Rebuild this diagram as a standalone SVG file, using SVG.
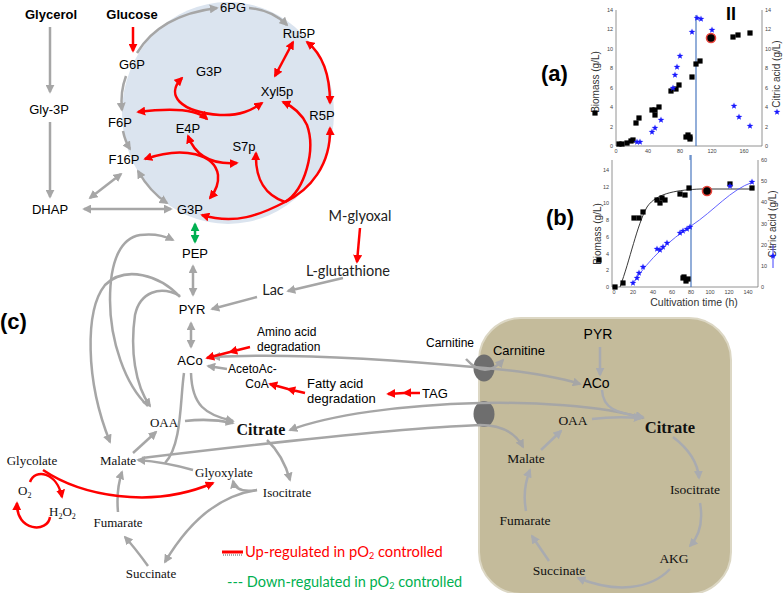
<svg xmlns="http://www.w3.org/2000/svg" xmlns:xlink="http://www.w3.org/1999/xlink" width="784" height="593" viewBox="0 0 784 593">
<defs>
<style>
.lb{font-family:"Liberation Sans",Arial,sans-serif;font-size:13px;fill:#000}
.bd{font-weight:bold}
.sf{font-family:"Liberation Serif","Times New Roman",serif;font-size:13px;fill:#111}
.cal{font-family:Lato,"Open Sans",sans-serif;font-size:14.5px;fill:#222}
.g{fill:none;stroke:#a6a6a6;stroke-width:2.5}
.gm{fill:none;stroke:#a9abb0;stroke-width:2.5}
.r{fill:none;stroke:#ff0000;stroke-width:2.5}
.gr{fill:none;stroke:#00b050;stroke-width:2.5}
.ax{fill:none;stroke:#777;stroke-width:0.8}
.tk{font-family:"Liberation Sans",Arial,sans-serif;font-size:5.5px;fill:#444}
.al{font-family:"Liberation Sans",Arial,sans-serif;font-size:10px;fill:#333}
.big{font-size:22px}
.s12{font-size:12px}
.s14{font-size:14px}
.m{font-size:13.5px}
</style>
<marker id="ag" viewBox="0 0 10 10" refX="8" refY="5" markerWidth="3.6" markerHeight="3.6" orient="auto-start-reverse"><path d="M0,0 L10,5 L0,10 z" fill="#a6a6a6"/></marker>
<marker id="am" viewBox="0 0 10 10" refX="8" refY="5" markerWidth="3.6" markerHeight="3.6" orient="auto-start-reverse"><path d="M0,0 L10,5 L0,10 z" fill="#a9abb0"/></marker>
<marker id="ar" viewBox="0 0 10 10" refX="8" refY="5" markerWidth="3.6" markerHeight="3.6" orient="auto-start-reverse"><path d="M0,0 L10,5 L0,10 z" fill="#ff0000"/></marker>
<marker id="an" viewBox="0 0 10 10" refX="8" refY="5" markerWidth="3.6" markerHeight="3.6" orient="auto-start-reverse"><path d="M0,0 L10,5 L0,10 z" fill="#00b050"/></marker>
<rect id="sq" x="-2.6" y="-2.6" width="5.2" height="5.2" fill="#000"/>
<path id="st" d="M0,-3.5 L0.82,-1.13 L3.33,-1.08 L1.33,0.43 L2.06,2.83 L0,1.4 L-2.06,2.83 L-1.33,0.43 L-3.33,-1.08 L-0.82,-1.13 Z" fill="#1a1aff"/>
</defs>
<rect width="784" height="593" fill="#fff"/>

<!-- background shapes -->
<ellipse id="ppp-circle" cx="228" cy="113" rx="106" ry="111" fill="#dbe4ef"/>
<rect id="mitochondrion" x="479" y="318" width="252" height="276" rx="42" fill="#c4bb9b" stroke="#dcd7c4" stroke-width="2"/>
<ellipse id="transporter1" cx="484" cy="368" rx="10.5" ry="13.5" fill="#6e6e6e"/>
<ellipse id="transporter2" cx="484" cy="414" rx="10.5" ry="13" fill="#6e6e6e"/>

<g id="connectors">
<!-- gray top-left -->
<path class="g" d="M50,27 L50,92" marker-end="url(#ag)"/>
<path class="g" d="M50,122 L50,197" marker-end="url(#ag)"/>
<path class="g" d="M137,53 Q160,15 217,8" marker-end="url(#ag)"/>
<path class="g" d="M249,8 Q272,10 287,25" marker-end="url(#ag)"/>
<path class="g" d="M126,76 Q120,92 122,110" marker-end="url(#ag)"/>
<path class="g" d="M123,131 Q125,141 130,149" marker-end="url(#ag)"/>
<path class="g" d="M138,171 Q150,192 167,203" marker-start="url(#ag)" marker-end="url(#ag)"/>
<path class="g" d="M90,198 L121,174" marker-start="url(#ag)" marker-end="url(#ag)"/>
<path class="g" d="M84,209 L171,209" marker-start="url(#ag)" marker-end="url(#ag)"/>
<!-- red PPP -->
<path class="r" d="M293,42 L275,76" marker-start="url(#ar)" marker-end="url(#ar)"/>
<path class="r" d="M307,42 Q330,60 330,103" marker-start="url(#ar)" marker-end="url(#ar)"/>
<path class="r" d="M182,78 C165,95 180,112 220,115 C240,116 252,110 262,103" marker-start="url(#ar)" marker-end="url(#ar)"/>
<path class="r" d="M138,112 Q192,105 207,119" marker-start="url(#ar)" marker-end="url(#ar)"/>
<path class="r" d="M145,159 C185,145 215,155 218,175 C219,185 215,192 210,198" marker-start="url(#ar)" marker-end="url(#ar)"/>
<path class="r" d="M188,136 C195,155 210,165 237,163" marker-start="url(#ar)" marker-end="url(#ar)"/>
<path class="r" d="M285,202 C265,195 255,180 256,153" marker-end="url(#ar)"/>
<path class="r" d="M285,202 C305,190 316,150 307,125 C301,112 292,106 283,102" marker-end="url(#ar)"/>
<path class="r" d="M285,202 C310,190 331,165 330,128" marker-end="url(#ar)"/>
<path class="r" d="M285,202 C260,215 235,225 202,215" marker-end="url(#ar)"/>
<path class="gr" d="M195,224 L195,242" marker-start="url(#an)" marker-end="url(#an)"/>
<path class="r" d="M360,228 L357,262" stroke-width="3" marker-end="url(#ar)"/>
<!-- gray middle -->
<path class="g" d="M343,278 L288,291" marker-end="url(#ag)"/>
<path class="g" d="M257,297 L212,309" marker-end="url(#ag)"/>
<path class="g" d="M193,266 L193,295" marker-start="url(#ag)" marker-end="url(#ag)"/>
<path class="g" d="M191,323 L191,347" marker-start="url(#ag)" marker-end="url(#ag)"/>
<path class="g" d="M227,369 L208,366" marker-end="url(#ag)"/>
<path class="g" d="M148,406 C125,385 110,340 110,300 C110,258 122,238 140,235 C155,233 165,236 173,240" marker-end="url(#ag)"/>
<path class="g" d="M180,296 C160,285 140,292 135,315 C130,350 135,385 150,406" marker-end="url(#ag)"/>
<path class="g" d="M180,297 C160,275 125,265 105,285 C85,310 85,380 110,442" marker-end="url(#ag)"/>
<path class="g" d="M184,373 C180,400 182,445 165,463"/>
<path class="g" d="M185,421 Q210,418 233,423" marker-end="url(#ag)"/>
<path class="g" d="M191,373 C192,405 205,415 233,421" marker-end="url(#ag)"/>
<path class="g" d="M133,453 L156,432" marker-end="url(#ag)"/>
<path class="g" d="M193,470 Q165,462 138,460" marker-end="url(#ag)"/>
<path class="g" d="M118,512 Q116,490 122,472" marker-end="url(#ag)"/>
<path class="g" d="M148,566 Q135,548 125,537" marker-end="url(#ag)"/>
<path class="g" d="M257,490 C220,495 190,520 165,562" marker-end="url(#ag)"/>
<path class="g" d="M257,490 C245,492 235,490 233,481" marker-end="url(#ag)"/>
<path class="g" d="M267,440 Q283,455 290,480" marker-end="url(#ag)"/>
<!-- long cross-membrane -->
<path class="g" d="M643,418 C600,405 530,402 480,403 C400,405 330,415 290,430" marker-start="url(#ag)" marker-end="url(#ag)"/>
<path class="g" d="M142,458 C250,445 400,428 480,425 C500,425 515,432 523,447" marker-end="url(#ag)"/>
<path class="g" d="M213,357 C300,352 420,362 485,368 C530,372 560,378 580,384" marker-start="url(#ag)" marker-end="url(#ag)"/>
<path class="g" d="M466,359 Q485,380 503,360" marker-end="url(#ag)"/>
<!-- mito -->
<path class="gm" d="M600,347 L600,375" marker-end="url(#am)"/>
<path class="gm" d="M602,390 C603,408 615,413 643,417" marker-end="url(#am)"/>
<path class="gm" d="M592,419 Q615,416 641,418" marker-end="url(#am)"/>
<path class="gm" d="M541,450 L561,431" marker-end="url(#am)"/>
<path class="gm" d="M526,511 Q522,490 530,470" marker-end="url(#am)"/>
<path class="gm" d="M549,561 Q540,548 532,536" marker-end="url(#am)"/>
<path class="gm" d="M670,569 C650,590 615,593 578,578" marker-end="url(#am)"/>
<path class="gm" d="M700,503 C703,520 700,535 690,546" marker-end="url(#am)"/>
<path class="gm" d="M673,437 C690,450 698,465 699,478" marker-end="url(#am)"/>
<!-- red cytosol -->
<path class="r" d="M250,347 L230,352 L207,358" marker-mid="url(#ar)" marker-end="url(#ar)"/>
<path class="r" d="M305,393 L288,389 L270,384" marker-mid="url(#ar)" marker-end="url(#ar)"/>
<path class="r" d="M420,393 L404,393 L388,394" marker-mid="url(#ar)" marker-end="url(#ar)"/>
<path class="r" d="M43,470 C80,495 150,510 213,483" stroke-width="3" marker-end="url(#ar)"/>
<path class="r" d="M30,482 C35,468 57,472 62,497" marker-end="url(#ar)"/>
<path class="r" d="M50,517 C48,533 16,532 17,503" marker-end="url(#ar)"/>
</g>

<!-- nodes -->
<g id="n-glycerol"><text class="lb bd" x="51" y="19" text-anchor="middle">Glycerol</text></g>
<g id="n-glucose"><text class="lb bd" x="132" y="19" text-anchor="middle">Glucose</text><path class="r" d="M133,27 L133,51" marker-end="url(#ar)"/></g>
<g id="n-g6p"><text class="lb" x="132" y="69" text-anchor="middle">G6P</text></g>
<g id="n-gly3p"><text class="lb" x="49" y="114" text-anchor="middle">Gly-3P</text></g>
<g id="n-dhap"><text class="lb" x="50" y="214" text-anchor="middle">DHAP</text></g>
<g id="n-6pg"><text class="lb" x="233" y="12" text-anchor="middle">6PG</text></g>
<g id="n-ru5p"><text class="lb" x="299" y="38" text-anchor="middle">Ru5P</text></g>
<g id="n-g3p-in"><text class="lb" x="209" y="76" text-anchor="middle">G3P</text></g>
<g id="n-xyl5p"><text class="lb" x="277" y="96" text-anchor="middle">Xyl5p</text></g>
<g id="n-r5p"><text class="lb" x="322" y="120" text-anchor="middle">R5P</text></g>
<g id="n-f6p"><text class="lb" x="120" y="127" text-anchor="middle">F6P</text></g>
<g id="n-e4p"><text class="lb" x="188" y="133" text-anchor="middle">E4P</text></g>
<g id="n-s7p"><text class="lb" x="244" y="151" text-anchor="middle">S7p</text></g>
<g id="n-f16p"><text class="lb" x="124" y="164" text-anchor="middle">F16P</text></g>
<g id="n-g3p"><text class="lb" x="190" y="214" text-anchor="middle">G3P</text></g>
<g id="n-mglyoxal"><text class="cal" x="360" y="221" text-anchor="middle">M-glyoxal</text></g>
<g id="n-pep"><text class="lb" x="195" y="258" text-anchor="middle">PEP</text></g>
<g id="n-lglut"><text class="cal" x="348" y="276" text-anchor="middle">L-glutathione</text></g>
<g id="n-lac"><text class="cal" x="273" y="295" text-anchor="middle">Lac</text></g>
<g id="n-pyr"><text class="lb" x="192" y="314" text-anchor="middle">PYR</text></g>
<g id="label-c"><text class="lb bd big" x="0" y="329">(c)</text></g>
<g id="n-aco"><text class="lb" x="190" y="365" text-anchor="middle">ACo</text></g>
<g id="n-amino"><text class="lb s12" x="257" y="336">Amino acid</text><text class="lb s12" x="257" y="351">degradation</text></g>
<g id="n-acetoac"><text class="lb s12" x="228" y="373">AcetoAc-</text><text class="lb s12" x="257" y="388" text-anchor="middle">CoA</text></g>
<g id="n-fatty"><text class="lb" x="307" y="388">Fatty acid</text><text class="lb" x="307" y="403">degradation</text></g>
<g id="n-tag"><text class="lb" x="422" y="398">TAG</text></g>
<g id="n-carnitine-out"><text class="lb s12" x="426" y="347">Carnitine</text></g>
<g id="n-oaa"><text class="sf" x="164" y="427" text-anchor="middle">OAA</text></g>
<g id="n-citrate"><text class="sf bd" x="261" y="435" text-anchor="middle" style="font-size:16px">Citrate</text></g>
<g id="n-malate"><text class="sf" x="118" y="465" text-anchor="middle">Malate</text></g>
<g id="n-glycolate"><text class="sf" x="32" y="465" text-anchor="middle">Glycolate</text></g>
<g id="n-glyoxylate"><text class="sf" x="224" y="477" text-anchor="middle">Glyoxylate</text></g>
<g id="n-isocitrate"><text class="sf" x="287" y="497" text-anchor="middle">Isocitrate</text></g>
<g id="n-fumarate"><text class="sf" x="118" y="527" text-anchor="middle">Fumarate</text></g>
<g id="n-succinate"><text class="sf" x="151" y="578" text-anchor="middle">Succinate</text></g>
<g id="n-o2"><text class="sf" x="18" y="495">O<tspan font-size="8" dy="3">2</tspan></text></g>
<g id="n-h2o2"><text class="sf" x="49" y="516">H<tspan font-size="8" dy="3">2</tspan><tspan dy="-3">O</tspan><tspan font-size="8" dy="3">2</tspan></text></g>

<g id="m-pyr"><text class="lb s14" x="598" y="339" text-anchor="middle">PYR</text></g>
<g id="m-aco"><text class="lb s14" x="596" y="388" text-anchor="middle">ACo</text></g>
<g id="m-carnitine"><text class="lb" x="519" y="355" text-anchor="middle">Carnitine</text></g>
<g id="m-oaa"><text class="sf m" x="573" y="425" text-anchor="middle">OAA</text></g>
<g id="m-citrate"><text class="sf bd" x="670" y="433" text-anchor="middle" style="font-size:16.5px">Citrate</text></g>
<g id="m-malate"><text class="sf m" x="526" y="463" text-anchor="middle">Malate</text></g>
<g id="m-isocitrate"><text class="sf m" x="695" y="494" text-anchor="middle">Isocitrate</text></g>
<g id="m-fumarate"><text class="sf m" x="525" y="525" text-anchor="middle">Fumarate</text></g>
<g id="m-akg"><text class="sf m" x="674" y="563" text-anchor="middle">AKG</text></g>
<g id="m-succinate"><text class="sf m" x="559" y="575" text-anchor="middle">Succinate</text></g>

<!-- legend -->
<g id="legend">
<path d="M222,552 L243,552" stroke="#ff0000" stroke-width="3"/>
<path d="M223,555 L243,555" stroke="#555" stroke-width="1" stroke-dasharray="1,1"/>
<text class="cal" x="245" y="557" style="fill:#ff0000;font-size:14.7px">Up-regulated  in pO<tspan font-size="9" dy="2">2</tspan><tspan dy="-2"> controlled</tspan></text>
<text class="cal" x="227" y="587" style="fill:#00b050;font-size:14.5px">--- Down-regulated  in pO<tspan font-size="9" dy="2">2</tspan><tspan dy="-2"> controlled</tspan></text>
</g>

<!-- plot (a) -->
<g id="plot-a">
<text class="lb bd big" x="541" y="81">(a)</text>
<text class="lb bd" x="726" y="20" style="font-size:18px">II</text>
<path class="ax" d="M616,10 L616,146 L762,146 L762,10"/>
<g class="tk" text-anchor="end">
<text x="613" y="148">0</text><text x="613" y="128.6">2</text><text x="613" y="109.2">4</text><text x="613" y="89.7">6</text><text x="613" y="70.3">8</text><text x="613" y="50.9">10</text><text x="613" y="31.4">12</text><text x="613" y="12">14</text>
</g>
<g class="tk">
<text x="765" y="148">0</text><text x="765" y="128.6">2</text><text x="765" y="109.2">4</text><text x="765" y="89.7">6</text><text x="765" y="70.3">8</text><text x="765" y="50.9">10</text><text x="765" y="31.4">12</text><text x="765" y="12">14</text>
</g>
<g class="tk" text-anchor="middle">
<text x="616" y="153">0</text><text x="648" y="153">40</text><text x="680" y="153">80</text><text x="712" y="153">120</text><text x="744" y="153">160</text>
</g>
<path d="M696,15 L696,146" stroke="#4a78c0" stroke-width="1.2"/>
<path d="M690,155 L690,160" stroke="#4a78c0" stroke-width="1"/>
<text class="al" transform="translate(599,82) rotate(-90)" text-anchor="middle">Biomass (g/L)</text>
<text class="al" transform="translate(780,74) rotate(-90)" text-anchor="middle">Citric acid (g/L)</text>
<use xlink:href="#sq" x="595" y="113"/>
<use xlink:href="#st" x="777" y="112"/>
<g>
<use xlink:href="#sq" x="619" y="144"/><use xlink:href="#sq" x="622" y="144"/><use xlink:href="#sq" x="627" y="143"/><use xlink:href="#sq" x="631" y="141"/><use xlink:href="#sq" x="633" y="140"/><use xlink:href="#sq" x="636" y="123"/><use xlink:href="#sq" x="639" y="118"/><use xlink:href="#sq" x="652" y="110"/><use xlink:href="#sq" x="655" y="115"/><use xlink:href="#sq" x="659" y="107"/><use xlink:href="#sq" x="655" y="110"/><use xlink:href="#sq" x="671" y="91"/><use xlink:href="#sq" x="676" y="89"/><use xlink:href="#sq" x="679" y="85"/><use xlink:href="#sq" x="692" y="77"/><use xlink:href="#sq" x="696" y="64"/><use xlink:href="#sq" x="700" y="61"/><use xlink:href="#sq" x="686" y="137"/><use xlink:href="#sq" x="690" y="137"/><use xlink:href="#sq" x="688" y="135"/><use xlink:href="#sq" x="690" y="139"/><use xlink:href="#sq" x="733" y="37"/><use xlink:href="#sq" x="738" y="35"/><use xlink:href="#sq" x="750" y="33"/>
<circle cx="711" cy="38" r="4.5" fill="#000" stroke="#e8453c" stroke-width="1.6"/>
<use xlink:href="#st" x="637" y="142"/><use xlink:href="#st" x="640" y="142"/><use xlink:href="#st" x="652" y="132"/><use xlink:href="#st" x="655" y="128"/><use xlink:href="#st" x="661" y="120"/><use xlink:href="#st" x="673" y="88"/><use xlink:href="#st" x="675" y="75"/><use xlink:href="#st" x="677" y="67"/><use xlink:href="#st" x="680" y="56"/><use xlink:href="#st" x="692" y="32"/><use xlink:href="#st" x="697" y="18"/><use xlink:href="#st" x="701" y="19"/><use xlink:href="#st" x="712" y="30"/><use xlink:href="#st" x="734" y="106"/><use xlink:href="#st" x="739" y="117"/><use xlink:href="#st" x="750" y="126"/>
</g>
</g>

<!-- plot (b) -->
<g id="plot-b">
<text class="lb bd big" x="546" y="225">(b)</text>
<path class="ax" d="M612,160 L612,287 L758,287 L758,160"/>
<g class="tk" text-anchor="end">
<text x="609" y="289">0</text><text x="609" y="272.3">2</text><text x="609" y="255.6">4</text><text x="609" y="238.8">6</text><text x="609" y="222.1">8</text><text x="609" y="205.4">10</text><text x="609" y="188.7">12</text><text x="609" y="172">14</text>
</g>
<g class="tk">
<text x="761" y="289">0</text><text x="761" y="267.8">10</text><text x="761" y="246.6">20</text><text x="761" y="225.5">30</text><text x="761" y="204.3">40</text><text x="761" y="183.1">50</text><text x="761" y="162">60</text>
</g>
<g class="tk" text-anchor="middle">
<text x="614" y="294">0</text><text x="633" y="294">20</text><text x="653" y="294">40</text><text x="672" y="294">60</text><text x="691" y="294">80</text><text x="710" y="294">100</text><text x="729" y="294">120</text><text x="748" y="294">140</text>
</g>
<text class="al" x="694" y="306" text-anchor="middle" style="font-size:10.5px">Cultivation time (h)</text>
<text class="al" transform="translate(601,234) rotate(-90)" text-anchor="middle">Biomass  (g/L)</text>
<text class="al" transform="translate(776,224) rotate(-90)" text-anchor="middle">Citric acid (g/L)</text>
<use xlink:href="#sq" x="599" y="260"/>
<path d="M773,245 L773,268" stroke="#4040ff" stroke-width="1"/>
<use xlink:href="#st" x="773" y="256"/>
<path d="M691,155 L691,287" stroke="#4a78c0" stroke-width="1.2"/>
<path d="M620,287 C630,260 637,225 647,207 C657,192 680,190 700,189 L753,189" fill="none" stroke="#222" stroke-width="0.9"/>
<path d="M633,283 C650,258 670,240 691,226 C715,210 730,190 753,182" fill="none" stroke="#5050ff" stroke-width="0.9"/>
<use xlink:href="#sq" x="615" y="287"/><use xlink:href="#sq" x="623" y="283"/><use xlink:href="#sq" x="634" y="218"/><use xlink:href="#sq" x="639" y="218"/><use xlink:href="#sq" x="643" y="212"/><use xlink:href="#sq" x="657" y="200"/><use xlink:href="#sq" x="660" y="203"/><use xlink:href="#sq" x="665" y="200"/><use xlink:href="#sq" x="662" y="198"/><use xlink:href="#sq" x="680" y="194"/><use xlink:href="#sq" x="685" y="195"/><use xlink:href="#sq" x="689" y="188"/><use xlink:href="#sq" x="683" y="278"/><use xlink:href="#sq" x="686" y="281"/><use xlink:href="#sq" x="688" y="279"/><use xlink:href="#sq" x="684" y="277"/><use xlink:href="#sq" x="730" y="184"/><use xlink:href="#sq" x="752" y="188"/>
<circle cx="707" cy="191" r="4.5" fill="#000" stroke="#e8453c" stroke-width="1.6"/>
<use xlink:href="#st" x="633" y="283"/><use xlink:href="#st" x="637" y="278"/><use xlink:href="#st" x="639" y="273"/><use xlink:href="#st" x="643" y="267"/><use xlink:href="#st" x="657" y="249"/><use xlink:href="#st" x="660" y="250"/><use xlink:href="#st" x="663" y="247"/><use xlink:href="#st" x="667" y="243"/><use xlink:href="#st" x="680" y="233"/><use xlink:href="#st" x="683" y="231"/><use xlink:href="#st" x="687" y="229"/><use xlink:href="#st" x="690" y="227"/><use xlink:href="#st" x="730" y="186"/><use xlink:href="#st" x="752" y="182"/>
</g>
</svg>
